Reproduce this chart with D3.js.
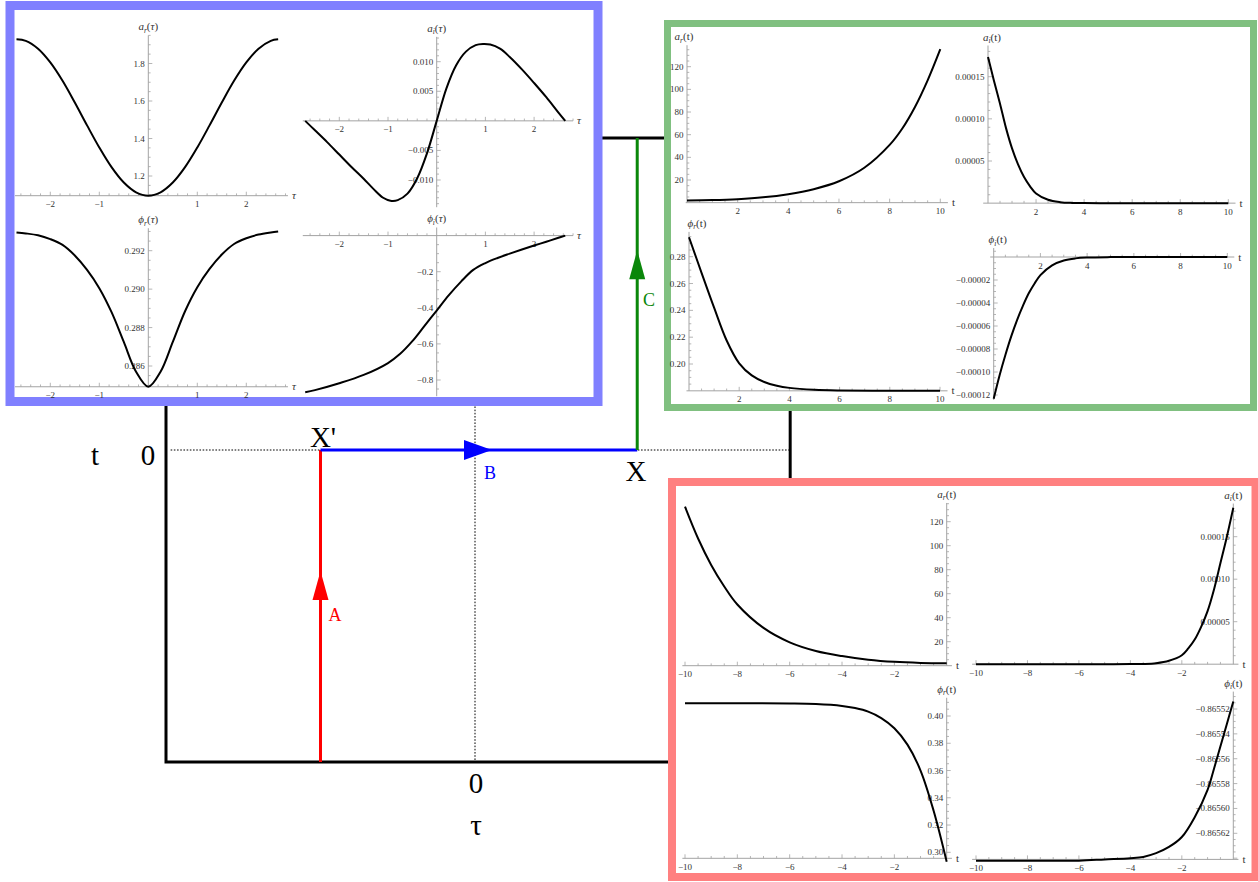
<!DOCTYPE html>
<html><head><meta charset="utf-8">
<script src="https://cdn.jsdelivr.net/npm/d3@7"></script>
<style>body{margin:0;background:#fff}svg{display:block}</style>
</head><body><svg id="c" width="1258" height="882"></svg>
<script>
// ---------------- DATA ----------------
// Euclidean segment (tau), blue panel
const tauGrid      = [-2.69,-2.5,-2.25,-2,-1.75,-1.5,-1.25,-1,-0.75,-0.5,-0.25,0,0.25,0.5,0.75,1,1.25,1.5,1.75,2,2.25,2.5,2.65];
const arTau        = [1.929,1.921,1.879,1.806,1.708,1.592,1.470,1.352,1.247,1.165,1.113,1.095,1.113,1.165,1.247,1.352,1.470,1.592,1.708,1.806,1.879,1.921,1.929];
const phrTau       = [0.29295,0.29290,0.29280,0.29260,0.29230,0.29175,0.29100,0.29005,0.28880,0.28725,0.28570,0.28492,0.28570,0.28725,0.28885,0.29010,0.29105,0.29180,0.29235,0.29265,0.29284,0.29295,0.29300];
const tauGridI     = [-2.70,-2.5,-2.25,-2,-1.75,-1.5,-1.3,-1.1,-0.95,-0.8,-0.6,-0.4,-0.2,0,0.2,0.4,0.6,0.8,0.95,1.1,1.3,1.5,1.75,2,2.25,2.5,2.64];
const aiTau        = [0,-0.0016,-0.0036,-0.0057,-0.0078,-0.0098,-0.0115,-0.0130,-0.0135,-0.0134,-0.0123,-0.0097,-0.0055,0,0.0055,0.0094,0.0117,0.0128,0.0130,0.0129,0.0122,0.0108,0.0087,0.0064,0.0040,0.0014,0];
const tauGridP     = [-2.70,-2.5,-2,-1.5,-1,-0.75,-0.5,-0.25,0,0.25,0.5,0.75,1,1.25,1.5,1.75,2,2.25,2.5,2.64];
const phiTau       = [-0.868,-0.856,-0.818,-0.772,-0.706,-0.655,-0.585,-0.50,-0.415,-0.33,-0.255,-0.19,-0.152,-0.124,-0.100,-0.077,-0.055,-0.034,-0.012,0];

// Lorentzian segment t>0, green panel
const tPosA   = [0,1,2,3,4,5,6,7,8,8.5,9,9.5,10];
const arPos   = [2.0,2.3,3.1,4.7,7.5,11.9,18.9,30.8,51,65.5,84.5,108,135.5];
const tPosB   = [0,0.25,0.5,0.75,1,1.25,1.5,1.75,2,2.5,3,3.5,4,5,6,8,10];
const aiPos   = [0.0001735,0.000145,0.000118,0.000089,0.000065,0.000046,0.000031,0.000020,0.0000115,0.0000040,0.0000012,0.0000003,0.0000001,0,0,0,0];
const phiPos  = [-0.0001232,-0.0001030,-0.0000852,-0.0000690,-0.0000548,-0.0000425,-0.0000316,-0.0000230,-0.0000157,-0.0000072,-0.0000030,-0.0000012,-0.0000005,-0.0000001,0,0,0];
const tPosC   = [0,0.5,1,1.5,2,2.5,3,3.5,4,5,6,8,10];
const phrPos  = [0.2945,0.268,0.242,0.2175,0.2005,0.1915,0.1866,0.1838,0.1822,0.1808,0.1803,0.1801,0.1800];

// Lorentzian segment t<0, red panel
const tNegA   = [-10,-9.5,-9,-8.5,-8,-7,-6,-5,-4,-3,-2,-1,0];
const arNeg   = [132.5,106,84,66,51,31.5,19.5,12.3,8.0,5.0,3.2,2.3,1.95];
const tNegB   = [-10,-8,-6,-5,-4,-3.5,-3,-2.5,-2,-1.75,-1.5,-1.25,-1,-0.75,-0.5,-0.25,0];
const aiNeg   = [0,0,0,0,0.0000001,0.0000003,0.0000012,0.0000040,0.0000105,0.0000185,0.0000290,0.0000440,0.0000625,0.0000880,0.0001190,0.0001500,0.0001840];
const tNegC   = [-10,-8,-6,-5,-4,-3.5,-3,-2.5,-2,-1.5,-1,-0.5,0];
const phrNeg  = [0.4093,0.4093,0.4092,0.4088,0.4074,0.4058,0.4032,0.3985,0.3910,0.3790,0.3600,0.3305,0.2930];
const tNegD   = [-10,-8,-6,-5,-4,-3.5,-3,-2.5,-2,-1.5,-1,-0.75,-0.5,-0.25,0];
const phiNeg  = [-0.865642,-0.865642,-0.865642,-0.865641,-0.865640,-0.865639,-0.865636,-0.865631,-0.865623,-0.865607,-0.865585,-0.865568,-0.865550,-0.865532,-0.865514];

// tick labels
const tauTicks      = [-2,-1,1,2];
const tPosTicks     = [2,4,6,8,10];
const tNegTicks     = [-10,-8,-6,-4,-2];
const arTauTicks    = [1.2,1.4,1.6,1.8];
const aiTauTicks    = [-0.010,-0.005,0.005,0.010];
const phrTauTicks   = [0.286,0.288,0.290,0.292];
const phiTauTicks   = [-0.8,-0.6,-0.4,-0.2];
const arTTicks      = [20,40,60,80,100,120];
const aiTTicks      = [0.00005,0.00010,0.00015];
const phrPosTicks   = [0.20,0.22,0.24,0.26,0.28];
const phiPosTicks   = [-0.00012,-0.00010,-0.00008,-0.00006,-0.00004,-0.00002];
const phrNegTicks   = [0.30,0.32,0.34,0.36,0.38,0.40];
const phiNegTicks   = [-0.86562,-0.86560,-0.86558,-0.86556,-0.86554,-0.86552];

// schematic (tau, t) plane, abstract units
const frameLine = [[-2,0.3],[-2,-2],[1.28,-2]];
const linkTop   = [[0.78,2],[1.26,2]];
const linkRight = [[2.04,0.26],[2.04,-0.24]];
const dotH      = [[-1.97,0],[2.04,0]];
const dotV      = [[0,0.3],[0,-2]];
const pathA     = [[-1,-2],[-1,0]];
const pathB     = [[-1,0],[1.05,0]];
const pathC     = [[1.05,0],[1.05,2]];
const arrows    = [
  {tip:[-1,-0.776], dir:'up', color:'#ff0000'},
  {tip:[0.11,0], dir:'right', color:'#0000ff'},
  {tip:[1.05,1.28], dir:'up', color:'#0a870a'}
];

// ---------------- DRAW ----------------
const svg = d3.select('#c');
const SERIF = "'Liberation Serif','DejaVu Serif',serif";
const AXIS = '#a3a3a3';
const TXT = '#333';
const TFS = 9;

const dX = d3.scaleLinear().domain([-2,2]).range([166,784]);
const dY = d3.scaleLinear().domain([-2,2]).range([762,138]);
const dLine = d3.line().x(d=>dX(d[0])).y(d=>dY(d[1]));

const diag = svg.append('g');
diag.append('path').attr('d', dLine(dotH)).attr('stroke','#000').attr('stroke-width',1).attr('stroke-dasharray','1.6,1.6').attr('fill','none');
diag.append('path').attr('d', dLine(dotV)).attr('stroke','#000').attr('stroke-width',1).attr('stroke-dasharray','1.6,1.6').attr('fill','none');
[frameLine, linkTop, linkRight].forEach(p =>
  diag.append('path').attr('d', dLine(p)).attr('stroke','#000').attr('stroke-width',3).attr('fill','none'));
diag.append('path').attr('d', dLine(pathA)).attr('stroke','#ff0000').attr('stroke-width',3).attr('fill','none');
diag.append('path').attr('d', dLine(pathB)).attr('stroke','#0000ff').attr('stroke-width',3).attr('fill','none');
diag.append('path').attr('d', dLine(pathC)).attr('stroke','#0a870a').attr('stroke-width',3).attr('fill','none');
arrows.forEach(a => {
  const x = dX(a.tip[0]), y = dY(a.tip[1]);
  const pts = a.dir === 'up'
    ? [[x,y],[x-8,y+29],[x+8,y+29]]
    : [[x,y],[x-28,y-10],[x-28,y+10]];
  diag.append('polygon').attr('points', pts.map(p=>p.join(',')).join(' ')).attr('fill', a.color);
});
const bigLabels = [
  {t:'t', x:95, y:465, s:29, c:'#000'},
  {t:'0', x:148, y:465, s:29, c:'#000'},
  {t:"X'", x:323, y:447, s:29, c:'#000'},
  {t:'X', x:636, y:481, s:29, c:'#000'},
  {t:'0', x:476, y:793, s:29, c:'#000'},
  {t:'τ', x:476, y:835, s:29, c:'#000'},
  {t:'A', x:335, y:621, s:18, c:'#ff0000'},
  {t:'B', x:490, y:479, s:18, c:'#0000ff'},
  {t:'C', x:649, y:306, s:18, c:'#0a870a'}
];
bigLabels.forEach(l => diag.append('text').attr('x',l.x).attr('y',l.y).attr('text-anchor','middle')
  .attr('font-family',SERIF).attr('font-size',l.s).attr('fill',l.c).text(l.t));

// frames
const frames = [
  {x:10, y:5.5, w:588, h:396, sw:9, c:'#8080ff'},
  {x:667.5, y:23.5, w:586, h:384, sw:7, c:'#80c080'},
  {x:672, y:482, w:583.5, h:395, sw:8, c:'#ff8080'}
];
frames.forEach(f => svg.append('rect').attr('x',f.x).attr('y',f.y).attr('width',f.w).attr('height',f.h)
  .attr('fill','#fff').attr('stroke',f.c).attr('stroke-width',f.sw));

function tickVals(ext, minor) {
  const k0 = Math.ceil(ext[0]/minor - 1e-6), k1 = Math.floor(ext[1]/minor + 1e-6);
  return d3.range(k0, k1+1).map(k => k*minor);
}
function isMajor(v, major) { const r = v/major; return Math.abs(r - Math.round(r)) < 1e-4; }

function plot(p) {
  const g = svg.append('g');
  const xs = d3.scaleLinear().domain(p.xd).range(p.xr);
  const ys = d3.scaleLinear().domain(p.yd).range(p.yr);
  const X0 = xs(p.cx), Y0 = ys(p.cy);
  g.append('line').attr('x1',xs(p.xExt[0])).attr('x2',xs(p.xExt[1])).attr('y1',Y0).attr('y2',Y0).attr('stroke',AXIS).attr('stroke-width',1);
  g.append('line').attr('x1',X0).attr('x2',X0).attr('y1',ys(p.yExt[0])).attr('y2',ys(p.yExt[1])).attr('stroke',AXIS).attr('stroke-width',1);
  tickVals(p.xExt, p.xMinor).forEach(v => {
    if (Math.abs(v - p.cx) < p.xMinor*0.1) return;
    const L = isMajor(v, p.xMajor) ? 4 : 2.3;
    g.append('line').attr('x1',xs(v)).attr('x2',xs(v)).attr('y1',Y0).attr('y2',Y0-L).attr('stroke',AXIS).attr('stroke-width',0.8);
  });
  tickVals(p.yExt, p.yMinor).forEach(v => {
    if (Math.abs(v - p.cy) < p.yMinor*0.1) return;
    const L = isMajor(v, p.yMajor) ? 4 : 2.3;
    g.append('line').attr('x1',X0).attr('x2',X0+L).attr('y1',ys(v)).attr('y2',ys(v)).attr('stroke',AXIS).attr('stroke-width',0.8);
  });
  p.xTicks.forEach(v => g.append('text').attr('x',xs(v)).attr('y',Y0+11.5).attr('text-anchor','middle')
    .attr('font-family',SERIF).attr('font-size',TFS).attr('fill',TXT).text(d3.format(p.xf)(v)));
  p.yTicks.forEach(v => g.append('text').attr('x',X0-3.5).attr('y',ys(v)+3).attr('text-anchor','end')
    .attr('font-family',SERIF).attr('font-size',TFS).attr('fill',TXT).text(d3.format(p.yf)(v)));
  // curve
  g.append('path').datum(d3.zip(p.xData, p.yData))
    .attr('d', d3.line().x(d=>xs(d[0])).y(d=>ys(d[1])).curve(d3.curveCatmullRom.alpha(0.5)))
    .attr('fill','none').attr('stroke','#000').attr('stroke-width',2).attr('stroke-linejoin','round');
  // y label
  const yl = g.append('text').attr('x',X0 + (p.ylDx||0)).attr('y',ys(p.yExt[1])-5).attr('text-anchor','middle')
    .attr('font-family',SERIF).attr('font-size',11).attr('fill',TXT);
  yl.append('tspan').attr('font-style','italic').text(p.yl[0]);
  yl.append('tspan').attr('font-size',7.5).attr('font-style','italic').attr('dy',2.5).text(p.yl[1]);
  yl.append('tspan').attr('dy',-2.5).text('(');
  yl.append('tspan').attr('font-style',p.tau?'italic':'normal').text(p.tau?'τ':'t');
  yl.append('tspan').text(')');
  // x label
  g.append('text').attr('x',xs(p.xExt[1])+4).attr('y',Y0+3.5).attr('font-family',SERIF).attr('font-size',11)
    .attr('font-style',p.tau?'italic':'normal').attr('fill',TXT).text(p.tau?'τ':'t');
}

const plots = [
  // blue
  {xd:[-2,2], xr:[50.3,246.3], yd:[1.2,1.8], yr:[176,63.5], cx:0, cy:1.095, xExt:[-2.72,2.85], yExt:[1.095,1.95],
   xMajor:1, xMinor:0.2, yMajor:0.2, yMinor:0.05, xTicks:tauTicks, yTicks:arTauTicks, xf:'d', yf:'.1f',
   xData:tauGrid, yData:arTau, yl:['a','r'], tau:true},
  {xd:[-2,2], xr:[339.3,534.1], yd:[-0.01,0.01], yr:[180,61.7], cx:0, cy:0, xExt:[-2.75,2.8], yExt:[-0.0146,0.0142],
   xMajor:1, xMinor:0.2, yMajor:0.005, yMinor:0.001, xTicks:tauTicks, yTicks:aiTauTicks, xf:'d', yf:'.3f',
   xData:tauGridI, yData:aiTau, yl:['a','i'], tau:true},
  {xd:[-2,2], xr:[50.3,246.3], yd:[0.286,0.292], yr:[366,250.7], cx:0, cy:0.28492, xExt:[-2.72,2.85], yExt:[0.28492,0.29317],
   xMajor:1, xMinor:0.2, yMajor:0.002, yMinor:0.0005, xTicks:tauTicks, yTicks:phrTauTicks, xf:'d', yf:'.3f',
   xData:tauGrid, yData:phrTau, yl:['ϕ','r'], tau:true},
  {xd:[-2,2], xr:[339.3,534.1], yd:[-0.8,-0.2], yr:[380,271.7], cx:0, cy:0, xExt:[-2.75,2.8], yExt:[-0.89,0.045],
   xMajor:1, xMinor:0.2, yMajor:0.2, yMinor:0.05, xTicks:tauTicks, yTicks:phiTauTicks, xf:'d', yf:'.1f',
   xData:tauGridP, yData:phiTau, yl:['ϕ','i'], tau:true},
  // green
  {xd:[0,10], xr:[687,940.3], yd:[20,120], yr:[180,66.7], cx:0, cy:0, xExt:[-0.05,10.3], yExt:[0,139],
   xMajor:2, xMinor:0.5, yMajor:20, yMinor:5, xTicks:tPosTicks, yTicks:arTTicks, xf:'d', yf:'d',
   xData:tPosA, yData:arPos, yl:['a','r'], ylDx:-3},
  {xd:[0,10], xr:[988,1228.3], yd:[0.00005,0.00015], yr:[161,76.7], cx:0, cy:0, xExt:[-0.2,10.3], yExt:[0,0.000187],
   xMajor:2, xMinor:0.5, yMajor:0.00005, yMinor:0.00001, xTicks:tPosTicks, yTicks:aiTTicks, xf:'d', yf:'.5f',
   xData:tPosB, yData:aiPos, yl:['a','i'], ylDx:4},
  {xd:[0,10], xr:[689,940], yd:[0.20,0.28], yr:[364,256.7], cx:0, cy:0.18, xExt:[-0.1,10.3], yExt:[0.18,0.2985],
   xMajor:2, xMinor:0.5, yMajor:0.02, yMinor:0.005, xTicks:tPosTicks, yTicks:phrPosTicks, xf:'d', yf:'.2f',
   xData:tPosC, yData:phrPos, yl:['ϕ','r'], ylDx:8},
  {xd:[0,10], xr:[993.7,1227.3], yd:[-0.00012,-0.00002], yr:[395,280], cx:0, cy:0, xExt:[-0.15,10.3], yExt:[-0.0001243,0.0000078],
   xMajor:2, xMinor:0.5, yMajor:0.00002, yMinor:0.000005, xTicks:tPosTicks, yTicks:phiPosTicks, xf:'d', yf:'.5f',
   xData:tPosB, yData:phiPos, yl:['ϕ','i'], ylDx:4},
  // red
  {xd:[-10,0], xr:[685,946.7], yd:[20,120], yr:[641.7,521.7], cx:0, cy:0, xExt:[-10.1,0.2], yExt:[0,135.6],
   xMajor:2, xMinor:0.5, yMajor:20, yMinor:5, xTicks:tNegTicks, yTicks:arTTicks, xf:'d', yf:'d',
   xData:tNegA, yData:arNeg, yl:['a','r']},
  {xd:[-10,0], xr:[976,1233.3], yd:[0.00005,0.00015], yr:[621.7,536.7], cx:0, cy:0, xExt:[-10.15,0.2], yExt:[0,0.000189],
   xMajor:2, xMinor:0.5, yMajor:0.00005, yMinor:0.00001, xTicks:tNegTicks, yTicks:aiTTicks, xf:'d', yf:'.5f',
   xData:tNegB, yData:aiNeg, yl:['a','i']},
  {xd:[-10,0], xr:[685,946.7], yd:[0.30,0.40], yr:[852.3,716], cx:0, cy:0.2956, xExt:[-10.1,0.2], yExt:[0.2956,0.4134],
   xMajor:2, xMinor:0.5, yMajor:0.02, yMinor:0.005, xTicks:tNegTicks, yTicks:phrNegTicks, xf:'d', yf:'.2f',
   xData:tNegC, yData:phrNeg, yl:['ϕ','r']},
  {xd:[-10,0], xr:[976,1233.3], yd:[-0.86562,-0.86552], yr:[833.3,709], cx:0, cy:-0.865641, xExt:[-10.15,0.2], yExt:[-0.865641,-0.865506],
   xMajor:2, xMinor:0.5, yMajor:0.00002, yMinor:0.000005, xTicks:tNegTicks, yTicks:phiNegTicks, xf:'d', yf:'.5f',
   xData:tNegD, yData:phiNeg, yl:['ϕ','i']}
];
plots.forEach(plot);
</script></body></html>
